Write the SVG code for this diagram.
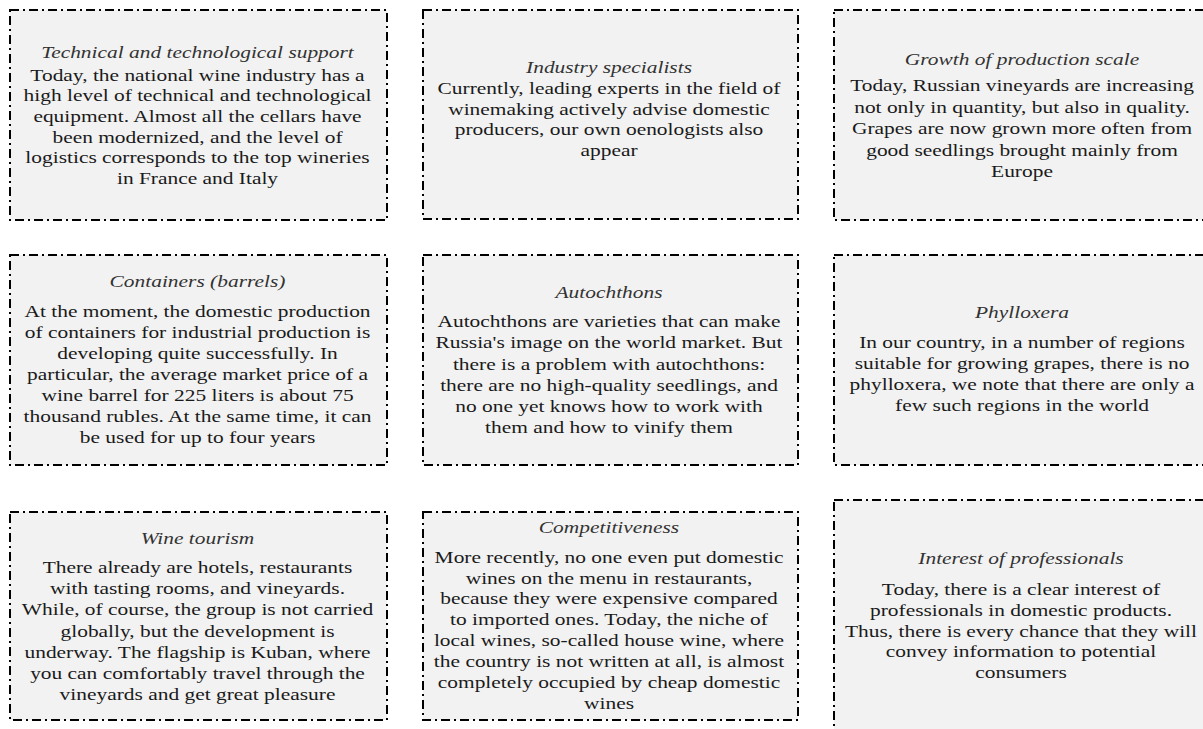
<svg xmlns="http://www.w3.org/2000/svg" width="1203" height="729" viewBox="0 0 1203 729">
<style>
.box{fill:#f2f2f2;stroke:#000;stroke-width:2;stroke-dasharray:9 4 2 4}
.t{font-family:"Liberation Serif","Times New Roman",serif;font-size:17px;fill:#1a1a1a;text-anchor:middle}
.h{font-style:italic;fill:#333}
</style>
<rect width="1203" height="729" fill="#fff"/>
<g id="connectors"/>
<g id="node-technical">
<rect class="box" x="10" y="10" width="377" height="210"/>
<g transform="translate(197.5 0) scale(1.26 1)">
<text class="t h" x="0" y="58">Technical and technological support</text>
<text class="t" x="0" y="80.7">Today, the national wine industry has a</text>
<text class="t" x="0" y="101.4">high level of technical and technological</text>
<text class="t" x="0" y="122.1">equipment. Almost all the cellars have</text>
<text class="t" x="0" y="142.8">been modernized, and the level of</text>
<text class="t" x="0" y="163.5">logistics corresponds to the top wineries</text>
<text class="t" x="0" y="184.2">in France and Italy</text>
</g>
</g>
<g id="node-specialists">
<rect class="box" x="423" y="10" width="375" height="209"/>
<g transform="translate(609 0) scale(1.26 1)">
<text class="t h" x="0" y="73.3">Industry specialists</text>
<text class="t" x="0" y="94.3">Currently, leading experts in the field of</text>
<text class="t" x="0" y="114.8">winemaking actively advise domestic</text>
<text class="t" x="0" y="135.3">producers, our own oenologists also</text>
<text class="t" x="0" y="155.8">appear</text>
</g>
</g>
<g id="node-growth">
<rect class="box" x="834" y="10" width="378" height="210"/>
<g transform="translate(1022 0) scale(1.26 1)">
<text class="t h" x="0" y="65">Growth of production scale</text>
<text class="t" x="0" y="91.5">Today, Russian vineyards are increasing</text>
<text class="t" x="0" y="113">not only in quantity, but also in quality.</text>
<text class="t" x="0" y="134.5">Grapes are now grown more often from</text>
<text class="t" x="0" y="156">good seedlings brought mainly from</text>
<text class="t" x="0" y="177.5">Europe</text>
</g>
</g>
<g id="node-containers">
<rect class="box" x="10" y="255" width="377" height="210"/>
<g transform="translate(197.5 0) scale(1.26 1)">
<text class="t h" x="0" y="286.7">Containers (barrels)</text>
<text class="t" x="0" y="317.3">At the moment, the domestic production</text>
<text class="t" x="0" y="338.2">of containers for industrial production is</text>
<text class="t" x="0" y="359.1">developing quite successfully. In</text>
<text class="t" x="0" y="380">particular, the average market price of a</text>
<text class="t" x="0" y="400.9">wine barrel for 225 liters is about 75</text>
<text class="t" x="0" y="421.8">thousand rubles. At the same time, it can</text>
<text class="t" x="0" y="442.7">be used for up to four years</text>
</g>
</g>
<g id="node-autochthons">
<rect class="box" x="423" y="255" width="375" height="210"/>
<g transform="translate(609 0) scale(1.26 1)">
<text class="t h" x="0" y="298.3">Autochthons</text>
<text class="t" x="0" y="327.3">Autochthons are varieties that can make</text>
<text class="t" x="0" y="348.5">Russia's image on the world market. But</text>
<text class="t" x="0" y="369.7">there is a problem with autochthons:</text>
<text class="t" x="0" y="390.9">there are no high-quality seedlings, and</text>
<text class="t" x="0" y="412.1">no one yet knows how to work with</text>
<text class="t" x="0" y="433.3">them and how to vinify them</text>
</g>
</g>
<g id="node-phylloxera">
<rect class="box" x="834" y="255" width="378" height="210"/>
<g transform="translate(1022 0) scale(1.26 1)">
<text class="t h" x="0" y="318.3">Phylloxera</text>
<text class="t" x="0" y="348.3">In our country, in a number of regions</text>
<text class="t" x="0" y="369.3">suitable for growing grapes, there is no</text>
<text class="t" x="0" y="390.2">phylloxera, we note that there are only a</text>
<text class="t" x="0" y="411.1">few such regions in the world</text>
</g>
</g>
<g id="node-tourism">
<rect class="box" x="10" y="512" width="377" height="208"/>
<g transform="translate(197.5 0) scale(1.26 1)">
<text class="t h" x="0" y="544">Wine tourism</text>
<text class="t" x="0" y="573.3">There already are hotels, restaurants</text>
<text class="t" x="0" y="594.4">with tasting rooms, and vineyards.</text>
<text class="t" x="0" y="615.5">While, of course, the group is not carried</text>
<text class="t" x="0" y="636.6">globally, but the development is</text>
<text class="t" x="0" y="657.7">underway. The flagship is Kuban, where</text>
<text class="t" x="0" y="678.8">you can comfortably travel through the</text>
<text class="t" x="0" y="699.9">vineyards and get great pleasure</text>
</g>
</g>
<g id="node-competitiveness">
<rect class="box" x="423" y="512" width="375" height="208"/>
<g transform="translate(609 0) scale(1.26 1)">
<text class="t h" x="0" y="532.7">Competitiveness</text>
<text class="t" x="0" y="562.7">More recently, no one even put domestic</text>
<text class="t" x="0" y="583.6">wines on the menu in restaurants,</text>
<text class="t" x="0" y="604.5">because they were expensive compared</text>
<text class="t" x="0" y="625.4">to imported ones. Today, the niche of</text>
<text class="t" x="0" y="646.3">local wines, so-called house wine, where</text>
<text class="t" x="0" y="667.2">the country is not written at all, is almost</text>
<text class="t" x="0" y="688.1">completely occupied by cheap domestic</text>
<text class="t" x="0" y="709">wines</text>
</g>
</g>
<g id="node-interest">
<rect class="box" x="834" y="500" width="378" height="245"/>
<g transform="translate(1021 0) scale(1.26 1)">
<text class="t h" x="0" y="564">Interest of professionals</text>
<text class="t" x="0" y="595">Today, there is a clear interest of</text>
<text class="t" x="0" y="615.8">professionals in domestic products.</text>
<text class="t" x="0" y="636.6">Thus, there is every chance that they will</text>
<text class="t" x="0" y="657.4">convey information to potential</text>
<text class="t" x="0" y="678.2">consumers</text>
</g>
</g>
</svg>
